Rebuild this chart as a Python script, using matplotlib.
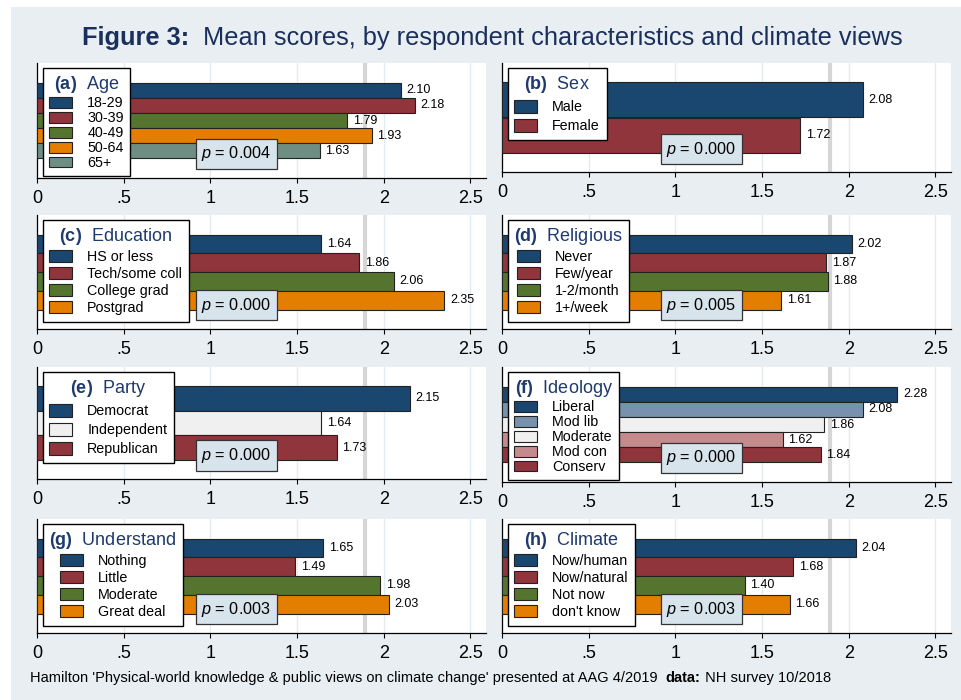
import matplotlib
matplotlib.use('Agg')
import matplotlib.pyplot as plt
from matplotlib.patches import Patch, Rectangle
from matplotlib.transforms import blended_transform_factory

# Arial-like text everywhere, with bold/italic pieces done through mathtext
plt.rcParams['font.family'] = ['Liberation Sans', 'DejaVu Sans']
plt.rcParams['mathtext.fontset'] = 'custom'
plt.rcParams['mathtext.rm'] = 'Liberation Sans'
plt.rcParams['mathtext.it'] = 'Liberation Sans:italic'
plt.rcParams['mathtext.bf'] = 'Liberation Sans:bold'

# Mean scores by group
age_labels = ['18-29', '30-39', '40-49', '50-64', '65+']
age_means = [2.10, 2.18, 1.79, 1.93, 1.63]

sex_labels = ['Male', 'Female']
sex_means = [2.08, 1.72]

educ_labels = ['HS or less', 'Tech/some coll', 'College grad', 'Postgrad']
educ_means = [1.64, 1.86, 2.06, 2.35]

relig_labels = ['Never', 'Few/year', '1-2/month', '1+/week']
relig_means = [2.02, 1.87, 1.88, 1.61]

party_labels = ['Democrat', 'Independent', 'Republican']
party_means = [2.15, 1.64, 1.73]

ideol_labels = ['Liberal', 'Mod lib', 'Moderate', 'Mod con', 'Conserv']
ideol_means = [2.28, 2.08, 1.86, 1.62, 1.84]

under_labels = ['Nothing', 'Little', 'Moderate', 'Great deal']
under_means = [1.65, 1.49, 1.98, 2.03]

climate_labels = ['Now/human', 'Now/natural', 'Not now', "don't know"]
climate_means = [2.04, 1.68, 1.40, 1.66]

p_values = ['0.004', '0.000', '0.000', '0.005', '0.000', '0.000', '0.003', '0.003']
overall_mean = 1.89

x_ticks = [0, 0.5, 1, 1.5, 2, 2.5]
x_ticklabels = ['0', '.5', '1', '1.5', '2', '2.5']

# bar colours
navy, maroon, green, orange, teal = '#1a476f', '#90353b', '#55752f', '#e37e00', '#6e8e84'
offwhite, ltblue, pink = '#f0f0f0', '#7892ae', '#c48a8c'
std_colors = [navy, maroon, green, orange, teal]

panels = [
    ('(a)', 'Age', age_labels, age_means, std_colors),
    ('(b)', 'Sex', sex_labels, sex_means, std_colors),
    ('(c)', 'Education', educ_labels, educ_means, std_colors),
    ('(d)', 'Religious', relig_labels, relig_means, std_colors),
    ('(e)', 'Party', party_labels, party_means, [navy, offwhite, maroon]),
    ('(f)', 'Ideology', ideol_labels, ideol_means, [navy, ltblue, offwhite, pink, maroon]),
    ('(g)', 'Understand', under_labels, under_means, std_colors),
    ('(h)', 'Climate', climate_labels, climate_means, std_colors),
]

W, H = 961, 700
fig = plt.figure(figsize=(W / 100, H / 100), dpi=100, facecolor='white')
fig.add_artist(Rectangle((11 / W, 0), 1, 1 - 7 / H, transform=fig.transFigure,
                         facecolor='#e8eef2', edgecolor='none', zorder=-10))

# panel layout in pixels
col_left = [37, 502]
ax_w = 449
row_top = [63, 215, 367, 519]
row_bottom = [[178, 172], [329, 329], [479, 482], [633, 633]]
title_color = '#1e3a6e'

# legend keys get squeezed as the number of groups grows
leg_font = 10.3
leg_fs_px = leg_font * 100 / 72
row_px = {2: 19, 3: 19, 4: 17.5, 5: 15.5}
key_px = {2: 15, 3: 15, 4: 13, 5: 11.5}

for k, (tag, name, labels, means, colors) in enumerate(panels):
    r, c = divmod(k, 2)
    ax_h = row_bottom[r][c] - row_top[r]
    ax = fig.add_axes([col_left[c] / W, 1 - row_bottom[r][c] / H, ax_w / W, ax_h / H])
    ax.set_facecolor('white')
    n = len(means)
    cols = colors[:n]

    ax.barh(range(n), means, height=1, color=cols, edgecolor='#222222',
            linewidth=0.8, zorder=3)
    for i, v in enumerate(means):
        ax.annotate(f'{v:.2f}', (v, i), xytext=(4, 0), textcoords='offset points',
                    va='center', ha='left', fontsize=9, zorder=4)

    # overall mean reference line
    ax.axvline(overall_mean, color='#d6d6d6', lw=3, zorder=1)

    pad = n * 0.26
    ax.set_ylim(n - 0.5 + pad, -0.5 - pad)
    ax.set_xlim(0, 2.59)
    ax.set_xticks(x_ticks)
    ax.set_xticklabels(x_ticklabels)
    ax.set_yticks([])
    ax.xaxis.grid(True, color='#e3ebf1', lw=1)
    ax.set_axisbelow(True)
    ax.tick_params(axis='x', length=3.6, width=0.8, labelsize=13, pad=5)
    for s in ['top', 'right']:
        ax.spines[s].set_visible(False)
    for s in ['left', 'bottom']:
        ax.spines[s].set_linewidth(0.9)

    handles = [Patch(facecolor=col, edgecolor='#222222', linewidth=0.8) for col in cols]
    spacing = (row_px[n] - 1.02 * leg_fs_px) / leg_fs_px
    leg = ax.legend(handles, labels, title=r'$\mathbf{' + tag + '}$  ' + name,
                    loc='upper left', bbox_to_anchor=(6 / ax_w, 1 - 5 / ax_h),
                    frameon=True, fancybox=False, edgecolor='black', framealpha=1,
                    fontsize=leg_font, title_fontsize=13, handlelength=1.6,
                    handleheight=key_px[n] / leg_fs_px, handletextpad=1.05,
                    labelspacing=spacing, borderpad=0.45, borderaxespad=0)
    leg.get_title().set_color(title_color)
    leg.get_frame().set_linewidth(1.0)
    leg.set_zorder(5)

    trans = blended_transform_factory(ax.transData, ax.transAxes)
    ax.text(1.15, 0.21, r'$\mathit{p}$ = ' + p_values[k], transform=trans,
            ha='center', va='center', fontsize=11.7, zorder=6,
            bbox=dict(boxstyle='square,pad=0.35', facecolor='#d8e4ec',
                      edgecolor='#333333', lw=0.9))

# Title
ty = 1 - 38 / H
fig.text(82 / W, ty, 'Figure 3:', fontsize=18.3, fontweight='bold', color='#1a2f5c', va='center')
fig.text(203 / W, ty, 'Mean scores, by respondent characteristics and climate views',
         fontsize=18.3, color='#1a2f5c', va='center')

# Footer note
fy = 1 - 678 / H
t1 = fig.text(30 / W, fy, "Hamilton 'Physical-world knowledge & public views on climate change' "
              "presented at AAG 4/2019  ", fontsize=10.5, va='center')
renderer = fig.canvas.get_renderer()
x1 = t1.get_window_extent(renderer).x1
t2 = fig.text(x1 / W, fy, 'data:', fontsize=10.5, fontweight='bold', va='center')
x2 = t2.get_window_extent(renderer).x1
fig.text(x2 / W, fy, ' NH survey 10/2018', fontsize=10.5, va='center')

fig.savefig('out.png', dpi=100)
